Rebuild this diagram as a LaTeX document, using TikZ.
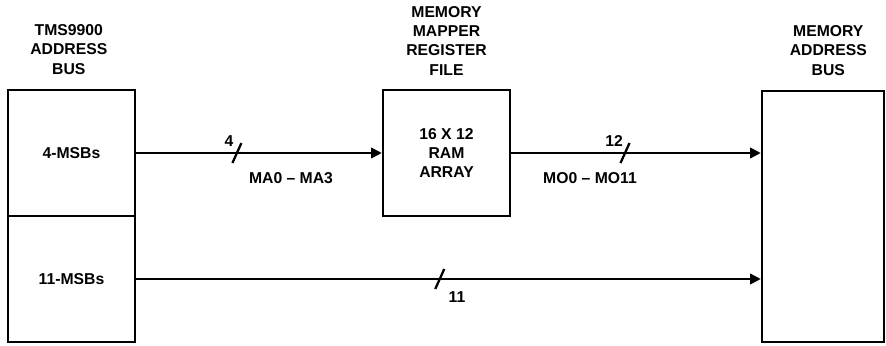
\documentclass[tikz,border=0pt]{standalone}
\usepackage{fontspec}
\setmainfont{Liberation Sans}
\usetikzlibrary{arrows.meta,positioning}

\begin{document}
\begin{tikzpicture}[x=0.75pt,y=-0.75pt,font=\bfseries\fontsize{11.8}{14.5}\selectfont,
  blk/.style={draw,line width=1.9pt,inner sep=0pt,minimum width=95.25pt,minimum height=94.5pt,align=center},
  ttl/.style={align=center,inner sep=0pt},
  bus/.style={line width=1.3pt,-{Triangle[length=8pt,width=8pt]}},
  slash/.style={line width=1.7pt}]
\useasboundingbox (0,0) rectangle (886,346);
% boxes
\node[blk] (msb4) at (71.5,153) {4-MSBs};
\node[blk] (msb11) at (71.5,279) {11-MSBs};
\node[blk] (ram) at (446.5,153) {16 X 12\\RAM\\ARRAY};
\node[blk,minimum width=91.5pt,minimum height=188.25pt] (mab) at (823,216.5) {};
% titles
\node[ttl,above=10.5pt of msb4,xshift=-2pt] (tms) {TMS9900\\ADDRESS\\BUS};
\node[ttl,above=10pt of ram] (mmr) {MEMORY\\MAPPER\\REGISTER\\FILE};
\node[ttl,above=10.5pt of mab,xshift=4pt] (mabt) {MEMORY\\ADDRESS\\BUS};
% buses
\draw[bus] (msb4.east) -- (ram.west) coordinate[pos=0.41] (s1);
\draw[bus] (ram.east) -- (mab.west |- ram.east) coordinate[pos=0.456] (s2);
\draw[bus] (msb11.east) -- (mab.west |- msb11.east) coordinate[pos=0.486] (s3);
\foreach \s in {s1,s2,s3}
  \draw[slash] ([shift={(-4.5,10)}]\s) -- ([shift={(4.5,-10)}]\s);
% bus labels
\node (n4) at (229,141) {4};
\node (ma) at (291,178) {MA0 -- MA3};
\node (n12) at (614,141) {12};
\node (mo) at (590,178) {MO0 -- MO11};
\node (n11) at (457,297) {11};
\end{tikzpicture}
\end{document}
